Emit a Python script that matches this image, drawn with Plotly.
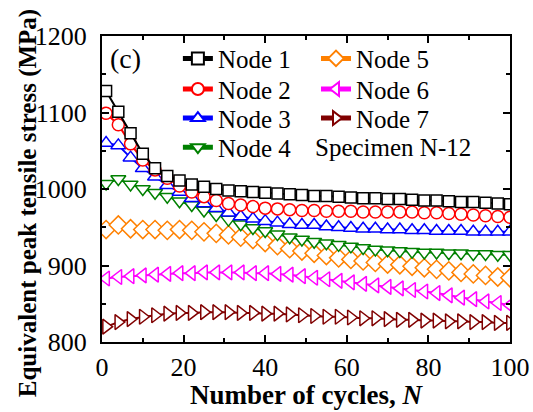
import plotly.graph_objects as go

# Cycle numbers at which the stress is sampled
cycles = list(range(1, 101, 3))

node1 = [1128, 1101, 1073, 1046, 1027, 1017, 1011, 1006, 1003, 1000, 998, 997, 996, 995, 994, 993, 992,
         991, 991, 990, 989, 988, 988, 987, 987, 986, 985, 985, 984, 983, 983, 982, 981, 980]
node2 = [1099, 1084, 1059, 1038, 1025, 1014, 1004, 996, 990, 985, 981, 979, 977, 975, 974, 973, 972,
         972, 971, 971, 971, 970, 970, 970, 970, 970, 969, 969, 968, 967, 966, 965, 964, 963]
node3 = [1060, 1057, 1041, 1027, 1016, 1005, 996, 988, 981, 975, 969, 964, 961, 958, 956, 954, 953,
         953, 951, 950, 949, 948, 948, 947, 947, 946, 946, 945, 945, 945, 944, 944, 944, 944]
node4 = [1007, 1013, 1006, 1000, 995, 990, 984, 979, 972, 966, 960, 954, 949, 945, 941, 937, 934,
         931, 929, 927, 925, 923, 921, 920, 919, 918, 917, 917, 916, 916, 915, 915, 914, 914]
node5 = [947, 953, 948, 947, 947, 946, 947, 946, 944, 942, 940, 937, 934, 930, 926, 922, 919,
         916, 913, 910, 908, 906, 904, 902, 901, 899, 897, 895, 893, 891, 889, 887, 885, 884]
node6 = [883, 885, 886, 887, 888, 889, 890, 890, 891, 891, 891, 891, 890, 890, 889, 888, 886,
         884, 882, 880, 878, 876, 874, 872, 870, 868, 866, 864, 861, 858, 856, 853, 851, 848]
node7 = [820, 826, 830, 833, 835, 837, 838, 838, 839, 839, 839, 838, 838, 837, 837, 836, 835,
         834, 833, 833, 832, 831, 831, 830, 829, 829, 828, 828, 827, 827, 826, 826, 825, 825]

# name, values, colour, marker symbol, marker size, legend slot (column x, row y in paper units)
series = [
    ("Node 1", node1, "#000000", "square", 11, (0.186, 0.926)),
    ("Node 2", node2, "#FF0000", "circle", 12, (0.186, 0.826)),
    ("Node 3", node3, "#0000FF", "triangle-up", 13, (0.186, 0.731)),
    ("Node 4", node4, "#008000", "triangle-down", 13, (0.186, 0.636)),
    ("Node 5", node5, "#FF8000", "diamond", 14, (0.5245, 0.926)),
    ("Node 6", node6, "#FF00FF", "triangle-left", 13, (0.5245, 0.826)),
    ("Node 7", node7, "#800000", "triangle-right", 13, (0.5245, 0.731)),
]

FONT = "Liberation Serif"

fig = go.Figure()
legends = {}
# draw bottom series first so the upper curves sit on top
for idx in reversed(range(len(series))):
    name, vals, color, sym, size, (lx, ly) = series[idx]
    key = "legend" if idx == 0 else f"legend{idx + 1}"
    fig.add_trace(go.Scatter(
        x=cycles, y=vals, name=name, mode="lines+markers",
        line=dict(color=color, width=2),
        # hollow-looking markers: white fill with a coloured outline
        marker=dict(symbol=sym, size=size, color="white", line=dict(width=1.5, color=color)),
        legend=key,
    ))
    legends[key] = dict(
        x=lx, y=ly, xanchor="left", yanchor="middle",
        font=dict(family=FONT, size=25, color="black"),
        bgcolor="rgba(0,0,0,0)", borderwidth=0, itemsizing="constant",
    )

axis_common = dict(
    showline=True, linecolor="black", linewidth=2, mirror="ticks",
    ticks="inside", ticklen=7, tickwidth=1.5, tickcolor="black",
    showgrid=False, zeroline=False, automargin=False,
    tickfont=dict(family=FONT, size=26, color="black"),
)

fig.update_xaxes(
    range=[0, 100], tickvals=[0, 20, 40, 60, 80, 100],
    minor=dict(ticks="inside", ticklen=4, tickwidth=1.5, tickcolor="black", dtick=10, tick0=0),
    ticklabelstandoff=1,
    **axis_common,
)
fig.update_yaxes(
    range=[800, 1200], tickvals=[800, 900, 1000, 1100, 1200],
    minor=dict(ticks="inside", ticklen=4, tickwidth=1.5, tickcolor="black", dtick=50, tick0=800),
    ticklabelstandoff=8,
    **axis_common,
)

fig.update_layout(
    width=533, height=412,
    margin=dict(l=102, r=23, t=36, b=70, autoexpand=False),
    paper_bgcolor="white", plot_bgcolor="white",
    font=dict(family=FONT, color="black"),
    showlegend=True,
    annotations=[
        # axis titles
        dict(text="<b>Number of cycles, <i>N</i></b>", x=0.5, y=-0.172,
             xref="paper", yref="paper", xanchor="center", yanchor="middle",
             showarrow=False, font=dict(family=FONT, size=27, color="black")),
        dict(text="<b>Equivalent peak tensile stress (MPa)</b>", x=-0.181, y=0.454,
             xref="paper", yref="paper", xanchor="center", yanchor="middle",
             textangle=-90, showarrow=False, font=dict(family=FONT, size=25, color="black")),
        # panel label and specimen tag
        dict(text="(c)", x=0.015, y=0.985, xref="paper", yref="paper",
             xanchor="left", yanchor="top", showarrow=False,
             font=dict(family=FONT, size=28, color="black")),
        dict(text="Specimen N-12", x=0.517, y=0.636, xref="paper", yref="paper",
             xanchor="left", yanchor="middle", showarrow=False,
             font=dict(family=FONT, size=25, color="black")),
    ],
    **legends,
)

fig.write_html("out.html")
